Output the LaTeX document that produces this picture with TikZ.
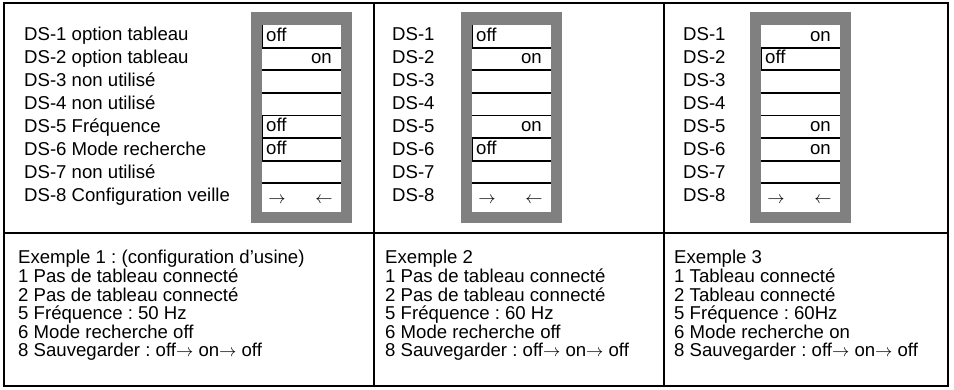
\documentclass[tikz,border=0pt]{standalone}
\usepackage{fontspec}
\setmainfont{Liberation Sans}
\frenchspacing
\usetikzlibrary{calc}
\definecolor{swgray}{RGB}{128,128,128}
\tikzset{
	txt/.style={inner sep=0pt, anchor=west, text height=0.716em, text depth=0pt, font=\fontsize{18.6}{20}\selectfont},
	onoff/.style={txt},
	arr/.style={inner sep=0pt, font=\fontsize{18.6}{20}\selectfont},
	rule/.style={line width=2pt},
	swline/.style={line width=1.8pt},
}
% switch block: #1 = left edge of the white face
\def\switchbox(#1){\fill[swgray] (#1-11, 12) rectangle (#1+90, 223);
	\fill[white] (#1, 25) rectangle (#1+79, 212);
	\foreach \k in {1,...,7} \draw[swline] (#1, 25+22.6*\k) -- (#1+79, 25+22.6*\k);}
\def\offmark(#1)(#2){\draw[line width=1.2pt] (#1+0.6, 25+22.6*#2-22.6) -- (#1+0.6, 25+22.6*#2);}

\begin{document}
\begin{tikzpicture}[x=1pt, y=-1pt]
			%%%%% START %%%%%
			\useasboundingbox (0, 0) rectangle (954, 389);
			
			\draw[rule] (4, 3) rectangle (948, 386);
			\draw[rule] (4, 233) -- (948, 233);
			\draw[rule] (374, 3) -- (374, 386);
			\draw[rule] (664, 3) -- (664, 386);
			
			%%%%% column 1 %%%%%
			\switchbox(262)
			\node[txt] (a1) at (24, 37) {DS-1 option tableau};
			\node[txt] (a2) at (24, 60) {DS-2 option tableau};
			\node[txt] (a3) at (24, 83) {DS-3 non utilisé};
			\node[txt] (a4) at (24, 106) {DS-4 non utilisé};
			\node[txt] (a5) at (24, 129) {DS-5 Fréquence};
			\node[txt] (a6) at (24, 152) {DS-6 Mode recherche};
			\node[txt] (a7) at (24, 175) {DS-7 non utilisé};
			\node[txt] (a8) at (24, 198) {DS-8 Configuration veille};
			
			\offmark(262)(1) \offmark(262)(5) \offmark(262)(6)
			\node[onoff] (as1) at (266, 37.5) {off};
			\node[onoff, anchor=east] (as2) at (332, 60.1) {on};
			\node[onoff] (as5) at (266, 127.9) {off};
			\node[onoff] (as6) at (266, 150.5) {off};
			\node[arr] (asr) at (277, 200) {$\rightarrow$};
			\node[arr] (asl) at (324, 200) {$\leftarrow$};
			
			\node[txt] (ae) at (18, 260) {Exemple 1 : (configuration d’usine)};
			\node[txt] (ae1) at (18, 279) {1 Pas de tableau connecté};
			\node[txt] (ae2) at (18, 298) {2 Pas de tableau connecté};
			\node[txt] (ae5) at (18, 316) {5 Fréquence : 50 Hz};
			\node[txt] (ae6) at (18, 335) {6 Mode recherche off};
			\node[txt] (ae8) at (18, 353) {8 Sauvegarder : off$\rightarrow$ on$\rightarrow$ off};
			
			%%%%% column 2 %%%%%
			\switchbox(472)
			\node[txt] (b1) at (392, 37) {DS-1};
			\node[txt] (b2) at (392, 60) {DS-2};
			\node[txt] (b3) at (392, 83) {DS-3};
			\node[txt] (b4) at (392, 106) {DS-4};
			\node[txt] (b5) at (392, 129) {DS-5};
			\node[txt] (b6) at (392, 152) {DS-6};
			\node[txt] (b7) at (392, 175) {DS-7};
			\node[txt] (b8) at (392, 198) {DS-8};
			
			\offmark(472)(1) \offmark(472)(6)
			\node[onoff] (bs1) at (476, 37.5) {off};
			\node[onoff, anchor=east] (bs2) at (542, 60.1) {on};
			\node[onoff, anchor=east] (bs5) at (542, 127.9) {on};
			\node[onoff] (bs6) at (476, 150.5) {off};
			\node[arr] (bsr) at (487, 200) {$\rightarrow$};
			\node[arr] (bsl) at (534, 200) {$\leftarrow$};
			
			\node[txt] (be) at (385, 260) {Exemple 2};
			\node[txt] (be1) at (385, 279) {1 Pas de tableau connecté};
			\node[txt] (be2) at (385, 298) {2 Pas de tableau connecté};
			\node[txt] (be5) at (385, 316) {5 Fréquence : 60 Hz};
			\node[txt] (be6) at (385, 335) {6 Mode recherche off};
			\node[txt] (be8) at (385, 353) {8 Sauvegarder : off$\rightarrow$ on$\rightarrow$ off};
			
			%%%%% column 3 %%%%%
			\switchbox(761)
			\node[txt] (c1) at (683, 37) {DS-1};
			\node[txt] (c2) at (683, 60) {DS-2};
			\node[txt] (c3) at (683, 83) {DS-3};
			\node[txt] (c4) at (683, 106) {DS-4};
			\node[txt] (c5) at (683, 129) {DS-5};
			\node[txt] (c6) at (683, 152) {DS-6};
			\node[txt] (c7) at (683, 175) {DS-7};
			\node[txt] (c8) at (683, 198) {DS-8};
			
			\offmark(761)(2)
			\node[onoff, anchor=east] (cs1) at (831, 37.5) {on};
			\node[onoff] (cs2) at (765, 60.1) {off};
			\node[onoff, anchor=east] (cs5) at (831, 127.9) {on};
			\node[onoff, anchor=east] (cs6) at (831, 150.5) {on};
			\node[arr] (csr) at (776, 200) {$\rightarrow$};
			\node[arr] (csl) at (823, 200) {$\leftarrow$};
			
			\node[txt] (ce) at (674, 260) {Exemple 3};
			\node[txt] (ce1) at (674, 279) {1 Tableau connecté};
			\node[txt] (ce2) at (674, 298) {2 Tableau connecté};
			\node[txt] (ce5) at (674, 316) {5 Fréquence : 60Hz};
			\node[txt] (ce6) at (674, 335) {6 Mode recherche on};
			\node[txt] (ce8) at (674, 353) {8 Sauvegarder : off$\rightarrow$ on$\rightarrow$ off};
			
			%%%%% END %%%%%
\end{tikzpicture}
\end{document}
